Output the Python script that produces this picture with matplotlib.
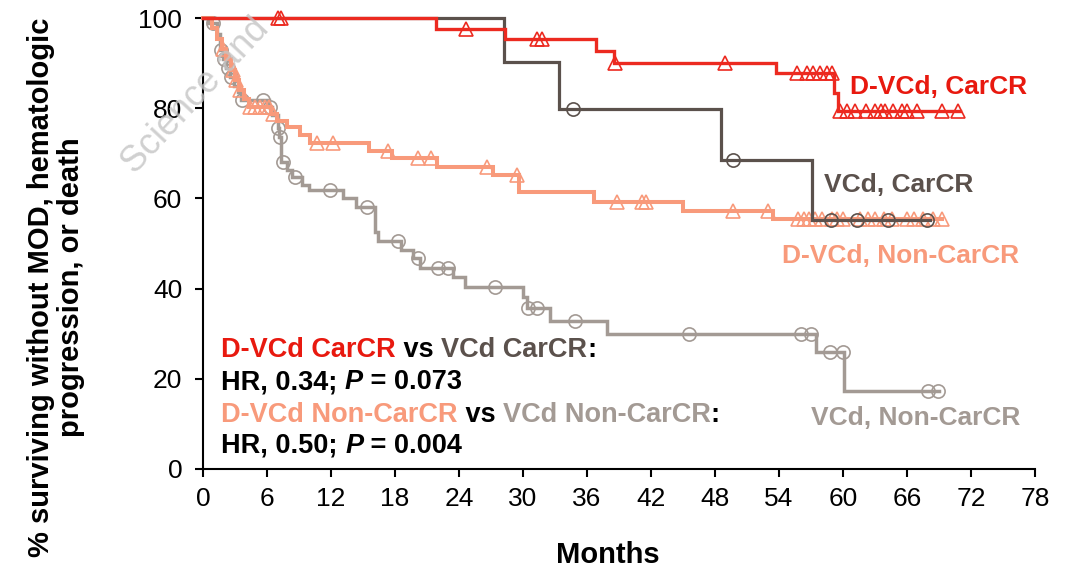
import numpy as np
import matplotlib
matplotlib.use("Agg")
import matplotlib.pyplot as plt

plt.rcParams['font.family'] = ['Liberation Sans', 'DejaVu Sans']

# ---- survival curves: step times (months), survival (%) after each step, censor times, last follow-up
dvcd_car_t = [0, 21.8, 28.3, 36.8, 38.5, 53.7, 59.2, 59.5]
dvcd_car_s = [100, 97.5, 95.3, 92.6, 90.1, 87.8, 83.4, 79.3]
dvcd_car_cens = [7.0, 7.3, 24.7, 31.3, 31.8, 38.6, 48.9, 55.7, 56.6, 57.2, 57.8, 58.5, 59.0,
                 59.7, 60.4, 61.1, 62.2, 63.0, 63.6, 63.9, 64.7, 65.5, 66.0, 66.9, 69.3, 70.8]
dvcd_car_end = 71.0

vcd_car_t = [0, 28.2, 33.4, 48.6, 57.1]
vcd_car_s = [100, 90.2, 79.8, 68.5, 55.2]
vcd_car_cens = [34.7, 49.7, 58.9, 61.3, 64.2, 67.9]
vcd_car_end = 68.2

dvcd_non_t = [0, 0.8, 1.3, 1.8, 2.2, 2.6, 3.0, 3.4, 3.8, 4.3, 6.4, 6.9, 7.9, 9.1, 10.0,
              15.6, 17.7, 21.9, 27.2, 29.6, 36.7, 45.0, 53.4]
dvcd_non_s = [100, 97.7, 95.4, 93.1, 90.8, 88.5, 86.2, 84.0, 82.0, 80.2, 78.8, 77.2, 75.8, 74.0, 72.3,
              70.4, 68.9, 67.0, 65.2, 61.4, 59.2, 57.2, 55.4]
dvcd_non_cens = [1.9, 2.8, 3.1, 3.5, 4.4, 4.9, 5.3, 5.8, 6.2, 6.6, 10.7, 12.2, 17.3, 20.2, 21.4,
                 26.6, 29.4, 38.8, 41.2, 41.5, 49.7, 53.0, 55.8, 56.3, 56.8, 57.4, 58.0, 59.0,
                 59.4, 60.0, 61.6, 62.3, 63.0, 63.8, 64.6, 66.0, 66.7, 67.5, 68.4, 69.3]
dvcd_non_end = 69.3

vcd_non_t = [0, 0.5, 1.3, 1.6, 1.9, 2.2, 2.5, 2.9, 3.3, 3.6, 6.2, 6.5, 7.0, 7.15, 7.3, 7.9, 8.3,
             9.3, 9.9, 13.1, 14.3, 16.1, 16.4, 18.6, 19.7, 20.3, 23.4, 24.6, 30.0, 30.4, 32.5,
             37.9, 57.5, 60.1]
vcd_non_s = [100, 98.9, 96.5, 93.0, 91.0, 89.0, 87.0, 85.0, 83.5, 81.8, 80.3, 78.5, 75.6, 73.6,
             68.0, 66.3, 64.8, 63.0, 61.9, 60.0, 58.0, 52.5, 50.5, 48.6, 46.8, 44.6, 42.6, 40.4,
             38.1, 35.7, 32.8, 29.9, 25.9, 17.3]
vcd_non_cens = [0.9, 1.7, 2.0, 2.3, 2.6, 3.7, 5.6, 6.3, 7.05, 7.2, 7.5, 8.6, 11.9, 15.4, 18.3,
                20.2, 22.0, 23.0, 27.4, 30.5, 31.3, 34.9, 45.6, 56.1, 57.0, 58.8, 60.0, 68.0, 68.9]
vcd_non_end = 69.0

x_ticks = list(range(0, 79, 6))
y_ticks = [0, 20, 40, 60, 80, 100]

RED = '#ec2a20'
DARK = '#5b514c'
SALMON = '#f89a7b'
GRAY = '#a39a94'

fig = plt.figure(figsize=(10.76, 5.72), dpi=100)
ax = fig.add_axes([203 / 1076, 103 / 572, 832 / 1076, 451 / 572])


def km(ax, t, s, cens, end, color, marker, lw, z):
    t = np.asarray(t, float)
    s = np.asarray(s, float)
    xs = np.append(t, end)
    ys = np.append(s, s[-1])
    ax.step(xs, ys, where='post', color=color, lw=lw, zorder=z, clip_on=False,
            solid_joinstyle='miter')
    c = np.asarray(cens, float)
    idx = np.searchsorted(t, c, side='right') - 1
    ax.plot(c, s[idx], linestyle='none', marker=marker, ms=9.5 if marker == 'o' else 10,
            mfc='none', mec=color, mew=1.2, zorder=z + 0.5, clip_on=False)


km(ax, vcd_non_t, vcd_non_s, vcd_non_cens, vcd_non_end, GRAY, 'o', 2.5, 2)
km(ax, dvcd_non_t, dvcd_non_s, dvcd_non_cens, dvcd_non_end, SALMON, '^', 2.9, 3)
km(ax, vcd_car_t, vcd_car_s, vcd_car_cens, vcd_car_end, DARK, 'o', 2.3, 4)
km(ax, dvcd_car_t, dvcd_car_s, dvcd_car_cens, dvcd_car_end, RED, '^', 2.4, 5)

ax.set_xlim(0, 78)
ax.set_ylim(0, 100)
ax.set_xticks(x_ticks)
ax.set_yticks(y_ticks)
for sp in ['top', 'right']:
    ax.spines[sp].set_visible(False)
for sp in ['left', 'bottom']:
    ax.spines[sp].set_linewidth(1.5)
    ax.spines[sp].set_color('black')
ax.tick_params(axis='both', labelsize=19, width=1.5, length=6, direction='out')
ax.tick_params(axis='y', pad=9)
ax.tick_params(axis='x', pad=7)

# curve labels
lab_kw = dict(fontsize=19, fontweight='bold', va='center', ha='left')
ax.text(60.7, 84.7, 'D-VCd, CarCR', color='#e8190f', **lab_kw)
ax.text(58.2, 63.0, 'VCd, CarCR', color=DARK, **lab_kw)
ax.text(54.3, 47.2, 'D-VCd, Non-CarCR', color=SALMON, **lab_kw)
ax.text(57.0, 11.3, 'VCd, Non-CarCR', color=GRAY, **lab_kw)


def colored_line(ax, x, y, pieces):
    prev = None
    for txt, color, style in pieces:
        kw = dict(fontsize=19.5, fontweight='bold', color=color, fontstyle=style,
                  ha='left', va='bottom')
        if prev is None:
            prev = ax.text(x, y, txt, **kw)
        else:
            prev = ax.annotate(txt, xy=(1, 0), xycoords=prev, **kw)


BLACK = 'black'
colored_line(ax, 1.7, 23.6, [('D-VCd CarCR', '#e8190f', 'normal'), (' vs ', BLACK, 'normal'),
                              ('VCd CarCR', DARK, 'normal'), (':', BLACK, 'normal')])
colored_line(ax, 1.7, 16.4, [('HR, 0.34; ', BLACK, 'normal'), ('P', BLACK, 'italic'),
                              (' = 0.073', BLACK, 'normal')])
colored_line(ax, 1.7, 9.2, [('D-VCd Non-CarCR', SALMON, 'normal'), (' vs ', BLACK, 'normal'),
                             ('VCd Non-CarCR', GRAY, 'normal'), (':', BLACK, 'normal')])
colored_line(ax, 1.7, 2.3, [('HR, 0.50; ', BLACK, 'normal'), ('P', BLACK, 'italic'),
                             (' = 0.004', BLACK, 'normal')])

fig.text(56 / 1076, 1 - 287 / 572, '% surviving without MOD, hematologic\nprogression, or death',
         rotation=90, ha='center', va='center', fontsize=21, fontweight='bold',
         multialignment='center', linespacing=1.1)
fig.text(608 / 1076, 1 - 555 / 572, 'Months', ha='center', va='center', fontsize=21,
         fontweight='bold')

# faint watermark
fig.text(196 / 1076, 1 - 96 / 572, 'Science and', rotation=47, ha='center', va='center',
         fontsize=26, color='#c4c4c4', alpha=0.8, zorder=10)

fig.savefig('out.png', dpi=100)
